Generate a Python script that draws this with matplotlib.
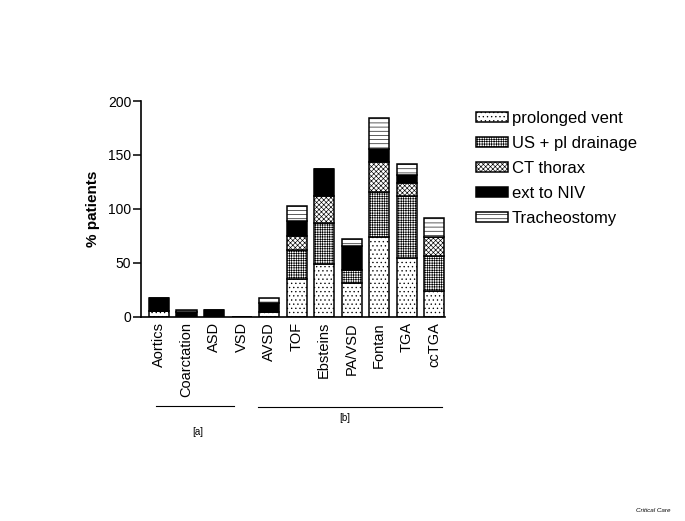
import numpy as np
import matplotlib
matplotlib.use('Agg')
import matplotlib.pyplot as plt
from matplotlib.patches import Patch

plt.rcParams['font.family'] = ['Liberation Sans', 'DejaVu Sans']
plt.rcParams['hatch.linewidth'] = 0.45

# categories (x axis)
groups = ['Aortics', 'Coarctation', 'ASD', 'VSD', 'AVSD', 'TOF',
          'Ebsteins', 'PA/VSD', 'Fontan', 'TGA', 'ccTGA']

# % patients per complication (stacked, bottom to top)
prolonged_vent = [5, 0, 0, 0, 4, 35, 49, 31.5, 74, 54, 24]
us_pl_drainage = [0, 0, 0, 0, 0, 27, 38, 11.5, 42, 58, 32]
ct_thorax      = [0, 0, 0, 0, 0, 13, 25, 0, 27.5, 12, 18]
ext_to_niv     = [12.5, 4, 6.5, 0, 9, 14, 25, 22, 12, 7, 0]
tracheostomy   = [0, 2.5, 0, 0, 4.5, 14, 0, 7, 28.5, 11, 17]

series = [
    ('prolonged vent', prolonged_vent, 'white', '....'),
    ('US + pl drainage', us_pl_drainage, 'white', '+++++++'),
    ('CT thorax', ct_thorax, 'white', 'xxxxxxx'),
    ('ext to NIV', ext_to_niv, 'black', None),
    ('Tracheostomy', tracheostomy, 'white', '----'),
]

fig = plt.figure(figsize=(6.85, 5.21), dpi=100)
ax = fig.add_axes([0.206, 0.3925, 0.444, 0.4135])

x = np.arange(len(groups))
bottom = np.zeros(len(groups))
handles = []
for label, vals, fc, hatch in series:
    vals = np.array(vals, dtype=float)
    ax.bar(x, vals, width=0.73, bottom=bottom, color=fc, edgecolor='black',
           hatch=hatch, linewidth=1.1)
    bottom += vals
    handles.append(Patch(facecolor=fc, edgecolor='black', hatch=hatch,
                         linewidth=1.1, label=label))

ax.set_xlim(-0.65, 10.4)
ax.set_ylim(0, 200)
ax.set_yticks([0, 50, 100, 150, 200])
ax.set_xticks(x)
ax.set_xticklabels(groups, rotation=90, fontsize=10.5)
ax.tick_params(axis='x', length=0, pad=4)
ax.tick_params(axis='y', labelsize=10, length=6, width=1.1, pad=1)
ax.set_ylabel('% patients', fontsize=11, fontweight='bold', labelpad=6)
ax.spines['top'].set_visible(False)
ax.spines['right'].set_visible(False)
ax.spines['left'].set_linewidth(1.2)
ax.spines['bottom'].set_linewidth(1.2)

# group brackets under the tick labels
tr = ax.get_xaxis_transform()
ax.plot([-0.1, 2.73], [-0.415, -0.415], color='black', lw=0.8,
        transform=tr, clip_on=False)
ax.plot([3.6, 10.3], [-0.42, -0.42], color='black', lw=0.8,
        transform=tr, clip_on=False)
ax.text(1.4, -0.535, '[a]', transform=tr, ha='center', va='center', fontsize=7)
ax.text(6.75, -0.47, '[b]', transform=tr, ha='center', va='center', fontsize=7)

fig.legend(handles=handles, loc='upper left', bbox_to_anchor=(0.685, 0.80),
           frameon=False, fontsize=12, handlelength=1.9, handleheight=0.6,
           handletextpad=0.25, labelspacing=0.6, borderaxespad=0)

fig.text(0.953, 0.02, 'Critical Care', fontsize=4.5, style='italic',
         ha='center', va='center')

fig.savefig('out.png', dpi=100)
